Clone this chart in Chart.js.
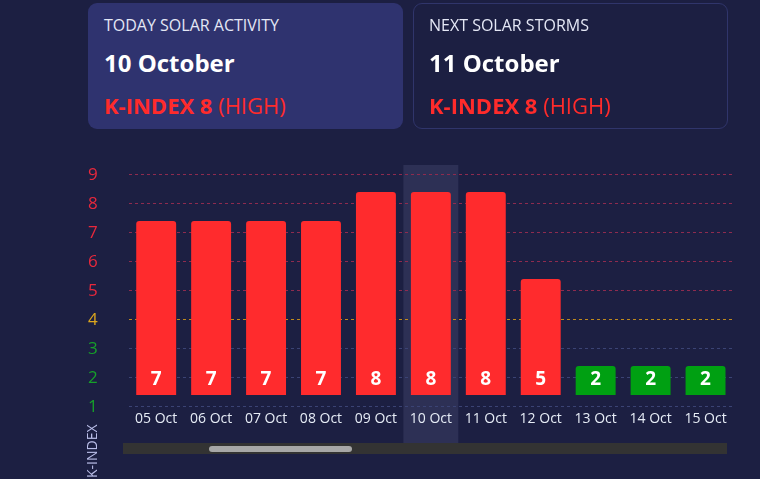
<!DOCTYPE html>
<html>
<head>
<meta charset="utf-8">
<script src="https://cdn.jsdelivr.net/npm/chart.js@4/dist/chart.umd.min.js"></script>
<style>
  html, body { margin:0; padding:0; background:#1c1f42; width:760px; height:479px; overflow:hidden; font-family:"Open Sans", "Noto Sans", sans-serif; }
  #wrap { position:relative; width:760px; height:479px; }
  #chart { position:absolute; left:0; top:0; }
  .card { position:absolute; top:3px; width:315px; height:126px; box-sizing:border-box; border-radius:9px; }
  #card1 { left:88px; background:#2f336f; }
  #card2 { left:413px; border:1px solid #30356b; }
  .txt { position:absolute; white-space:nowrap; line-height:1; }
  .t1 { font-size:16px; color:#e4e7f5; }
  .t2 { font-size:24px; font-weight:700; color:#ffffff; }
  .t3 { font-size:22px; color:#ff2b2b; }
  .t3 b { font-weight:700; }
  #track { position:absolute; left:123px; top:443px; width:604px; height:11px; background:#333333; }
  #thumb { position:absolute; left:209px; top:446px; width:143px; height:6px; border-radius:3px; background:#a7a7a7; }
  #ktitle { position:absolute; left:85px; top:478px; transform:rotate(-90deg); transform-origin:0 0; font-size:14px; line-height:1; color:#b9bde8; white-space:nowrap; }
</style>
</head>
<body>
<div id="wrap">
  <canvas id="chart" width="760" height="479"></canvas>
  <div class="card" id="card1"></div>
  <div class="card" id="card2"></div>
  <div class="txt t1" style="left:104px; top:17px;">TODAY SOLAR ACTIVITY</div>
  <div class="txt t2" style="left:104px; top:51px;">10 October</div>
  <div class="txt t3" style="left:104px; top:94px;"><b>K-INDEX 8</b> (HIGH)</div>
  <div class="txt t1" style="left:429px; top:17px;">NEXT SOLAR STORMS</div>
  <div class="txt t2" style="left:429px; top:51px;">11 October</div>
  <div class="txt t3" style="left:429px; top:94px;"><b>K-INDEX 8</b> (HIGH)</div>
  <div id="track"></div>
  <div id="thumb"></div>
  <div id="ktitle">K-INDEX</div>
</div>
<script>
// ---- data ----
const labels = ['05 Oct','06 Oct','07 Oct','08 Oct','09 Oct','10 Oct','11 Oct','12 Oct','13 Oct','14 Oct','15 Oct'];
const kIndex = [7, 7, 7, 7, 8, 8, 8, 5, 2, 2, 2];
const yTicks = [1, 2, 3, 4, 5, 6, 7, 8, 9];
const todayIndex = 5;

// ---- styling helpers ----
function barColor(v) { return v >= 5 ? '#ff2b2d' : (v === 4 ? '#e0a020' : '#00a012'); }
function tickColor(v) { return v >= 5 ? '#e8283c' : (v === 4 ? '#dca61e' : '#16a02a'); }
function gridColor(v) { return v >= 5 ? '#8e2b4f' : (v === 4 ? '#c08a1c' : '#3b4374'); }

const Y_MIN = 0.9655, Y_MAX = 9.3448, SHIFT = 0.4138;

const highlightPlugin = {
  id: 'highlight',
  beforeDraw(chart) {
    const xs = chart.scales.x, ca = chart.chartArea, ctx = chart.ctx;
    const half = (xs.right - xs.left) / labels.length / 2;
    const c = xs.getPixelForValue(todayIndex);
    ctx.save();
    ctx.fillStyle = '#2d3055';
    ctx.fillRect(c - half, ca.top, half * 2, ca.bottom + 35 - ca.top);
    ctx.restore();
  }
};

const valueLabelPlugin = {
  id: 'valueLabels',
  afterDatasetsDraw(chart) {
    const ctx = chart.ctx;
    const meta = chart.getDatasetMeta(0);
    ctx.save();
    ctx.fillStyle = '#ffffff';
    ctx.font = '700 19px "Open Sans", sans-serif';
    ctx.textAlign = 'center';
    ctx.textBaseline = 'middle';
    meta.data.forEach((bar, i) => {
      ctx.fillText(String(kIndex[i]), bar.x, bar.base - 15);
    });
    ctx.restore();
  }
};

new Chart(document.getElementById('chart'), {
  type: 'bar',
  data: {
    labels: labels,
    datasets: [{
      data: kIndex,
      backgroundColor: kIndex.map(barColor),
      borderRadius: { topLeft: 3, topRight: 3, bottomLeft: 0, bottomRight: 0 },
      borderSkipped: false,
      base: 1,
      yAxisID: 'yb',
      categoryPercentage: 1,
      barPercentage: 0.727
    }]
  },
  options: {
    responsive: false,
    animation: false,
    events: [],
    layout: { padding: { left: 57, right: 27, top: 165, bottom: 51 } },
    plugins: { legend: { display: false }, tooltip: { enabled: false } },
    scales: {
      x: {
        afterFit: s => { s.height = 20; },
        ticks: {
          color: '#e6ecf6',
          font: { family: '"Open Sans", sans-serif', size: 14 },
          padding: 3,
          maxRotation: 0,
          autoSkip: false
        },
        grid: { display: false, drawTicks: false },
        border: { display: false }
      },
      y: {
        position: 'left',
        min: Y_MIN,
        max: Y_MAX,
        afterBuildTicks: s => { s.ticks = yTicks.map(v => ({ value: v })); },
        ticks: {
          color: ctx => tickColor(ctx.tick.value),
          font: { family: '"Open Sans", sans-serif', size: 17 },
          padding: 31
        },
        grid: { color: ctx => gridColor(ctx.tick.value), drawTicks: false, lineWidth: 1 },
        border: { display: false, dash: [3, 3] }
      },
      yb: {
        display: false,
        min: Y_MIN - SHIFT,
        max: Y_MAX - SHIFT
      }
    }
  },
  plugins: [highlightPlugin, valueLabelPlugin]
});
</script>
</body>
</html>
